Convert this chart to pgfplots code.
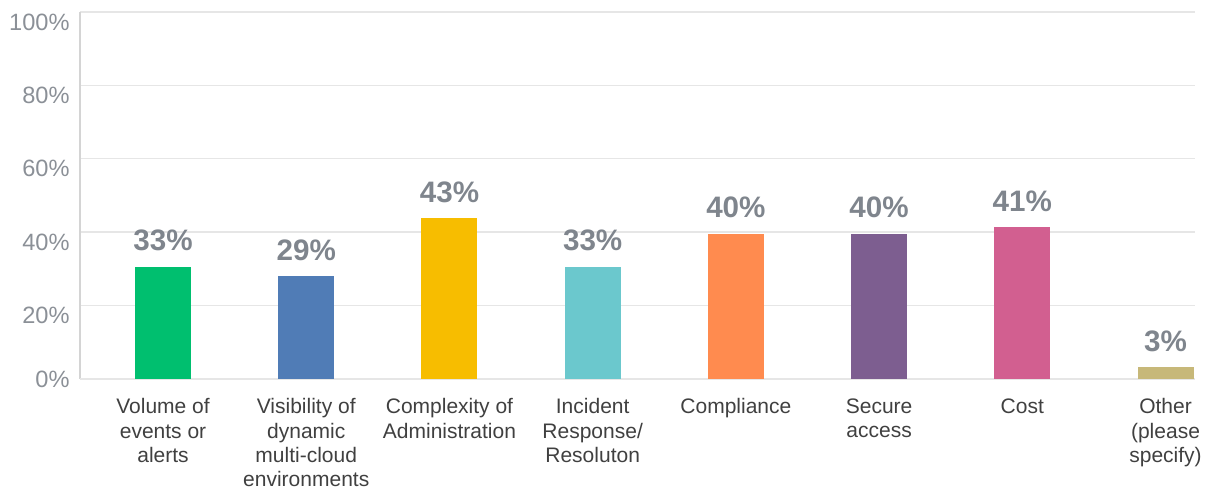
\documentclass[border=0pt]{standalone}
\usepackage{fontspec}
\setmainfont{Liberation Sans}
\usepackage{pgfplots}
\pgfplotsset{compat=1.18}
\definecolor{cgreen}{HTML}{00BF6F}
\definecolor{cblue}{HTML}{507CB6}
\definecolor{cyellow}{HTML}{F7BD00}
\definecolor{cteal}{HTML}{6BC8CD}
\definecolor{corange}{HTML}{FF8B4F}
\definecolor{cpurple}{HTML}{7D5E90}
\definecolor{cpink}{HTML}{D25F90}
\definecolor{ckhaki}{HTML}{C7B879}
\definecolor{gridgray}{HTML}{E6E6E6}
\definecolor{axgray}{HTML}{D4D4D4}
\definecolor{ytgray}{HTML}{8B9097}
\definecolor{valgray}{HTML}{7F858D}
\definecolor{labgray}{HTML}{404040}
\begin{document}
\begin{tikzpicture}
\path[use as bounding box] (-40pt,-56pt) rectangle (565.5pt,189.5pt);
\begin{axis}[
  at={(0,0)}, anchor=south west,
  scale only axis, width=557.5pt, height=183.5pt,
  xmin=-0.58, xmax=7.206, ymin=0, ymax=100,
  ybar, bar width=28pt,
  axis x line*=bottom, axis y line*=left,
  x axis line style={color=axgray, line width=1pt},
  y axis line style={color=axgray, line width=0.6pt},
  major tick length=0pt,
  ymajorgrids, grid style={color=gridgray, line width=0.7pt},
  xtick={0,1,2,3,4,5,6,7},
  xticklabels={{Volume of\\events or\\alerts},{Visibility of\\dynamic\\multi-cloud\\environments},{Complexity of\\Administration},{Incident\\Response/\\Resoluton},{Compliance},{Secure\\access},{Cost},{Other\\(please\\specify)}},
  xticklabel style={font=\fontsize{10.5}{12.2}\selectfont, text=labgray, align=center, anchor=north, inner sep=0pt, yshift=-9.5pt},
  ytick={20,40,60,80,100},
  extra y ticks={0},
  extra y tick style={yticklabel style={yshift=5pt}},
  /pgf/number format/assume math mode=true,
  yticklabel={\pgfmathprintnumber{\tick}\%},
  yticklabel style={font=\fontsize{11.8}{13}\selectfont, text=ytgray, anchor=east, inner sep=0pt, xshift=-5pt, yshift=-5pt},
  point meta=explicit symbolic,
  nodes near coords,
  nodes near coords style={font=\bfseries\fontsize{14.8}{16}\selectfont, text=valgray, anchor=south, inner sep=0pt, yshift=7.5pt},
  every axis plot/.append style={draw=none, bar shift=0pt},
]
\addplot[fill=cgreen, bar shift=0pt] coordinates {(0,30.6) [33\%]};
\addplot[fill=cblue, bar shift=0pt] coordinates {(1,28.1) [29\%]};
\addplot[fill=cyellow, bar shift=0pt] coordinates {(2,43.9) [43\%]};
\addplot[fill=cteal, bar shift=0pt] coordinates {(3,30.6) [33\%]};
\addplot[fill=corange, bar shift=0pt] coordinates {(4,39.6) [40\%]};
\addplot[fill=cpurple, bar shift=0pt] coordinates {(5,39.6) [40\%]};
\addplot[fill=cpink, bar shift=0pt] coordinates {(6,41.4) [41\%]};
\addplot[fill=ckhaki, bar shift=0pt] coordinates {(7,3.2) [3\%]};
\end{axis}
\end{tikzpicture}
\end{document}
